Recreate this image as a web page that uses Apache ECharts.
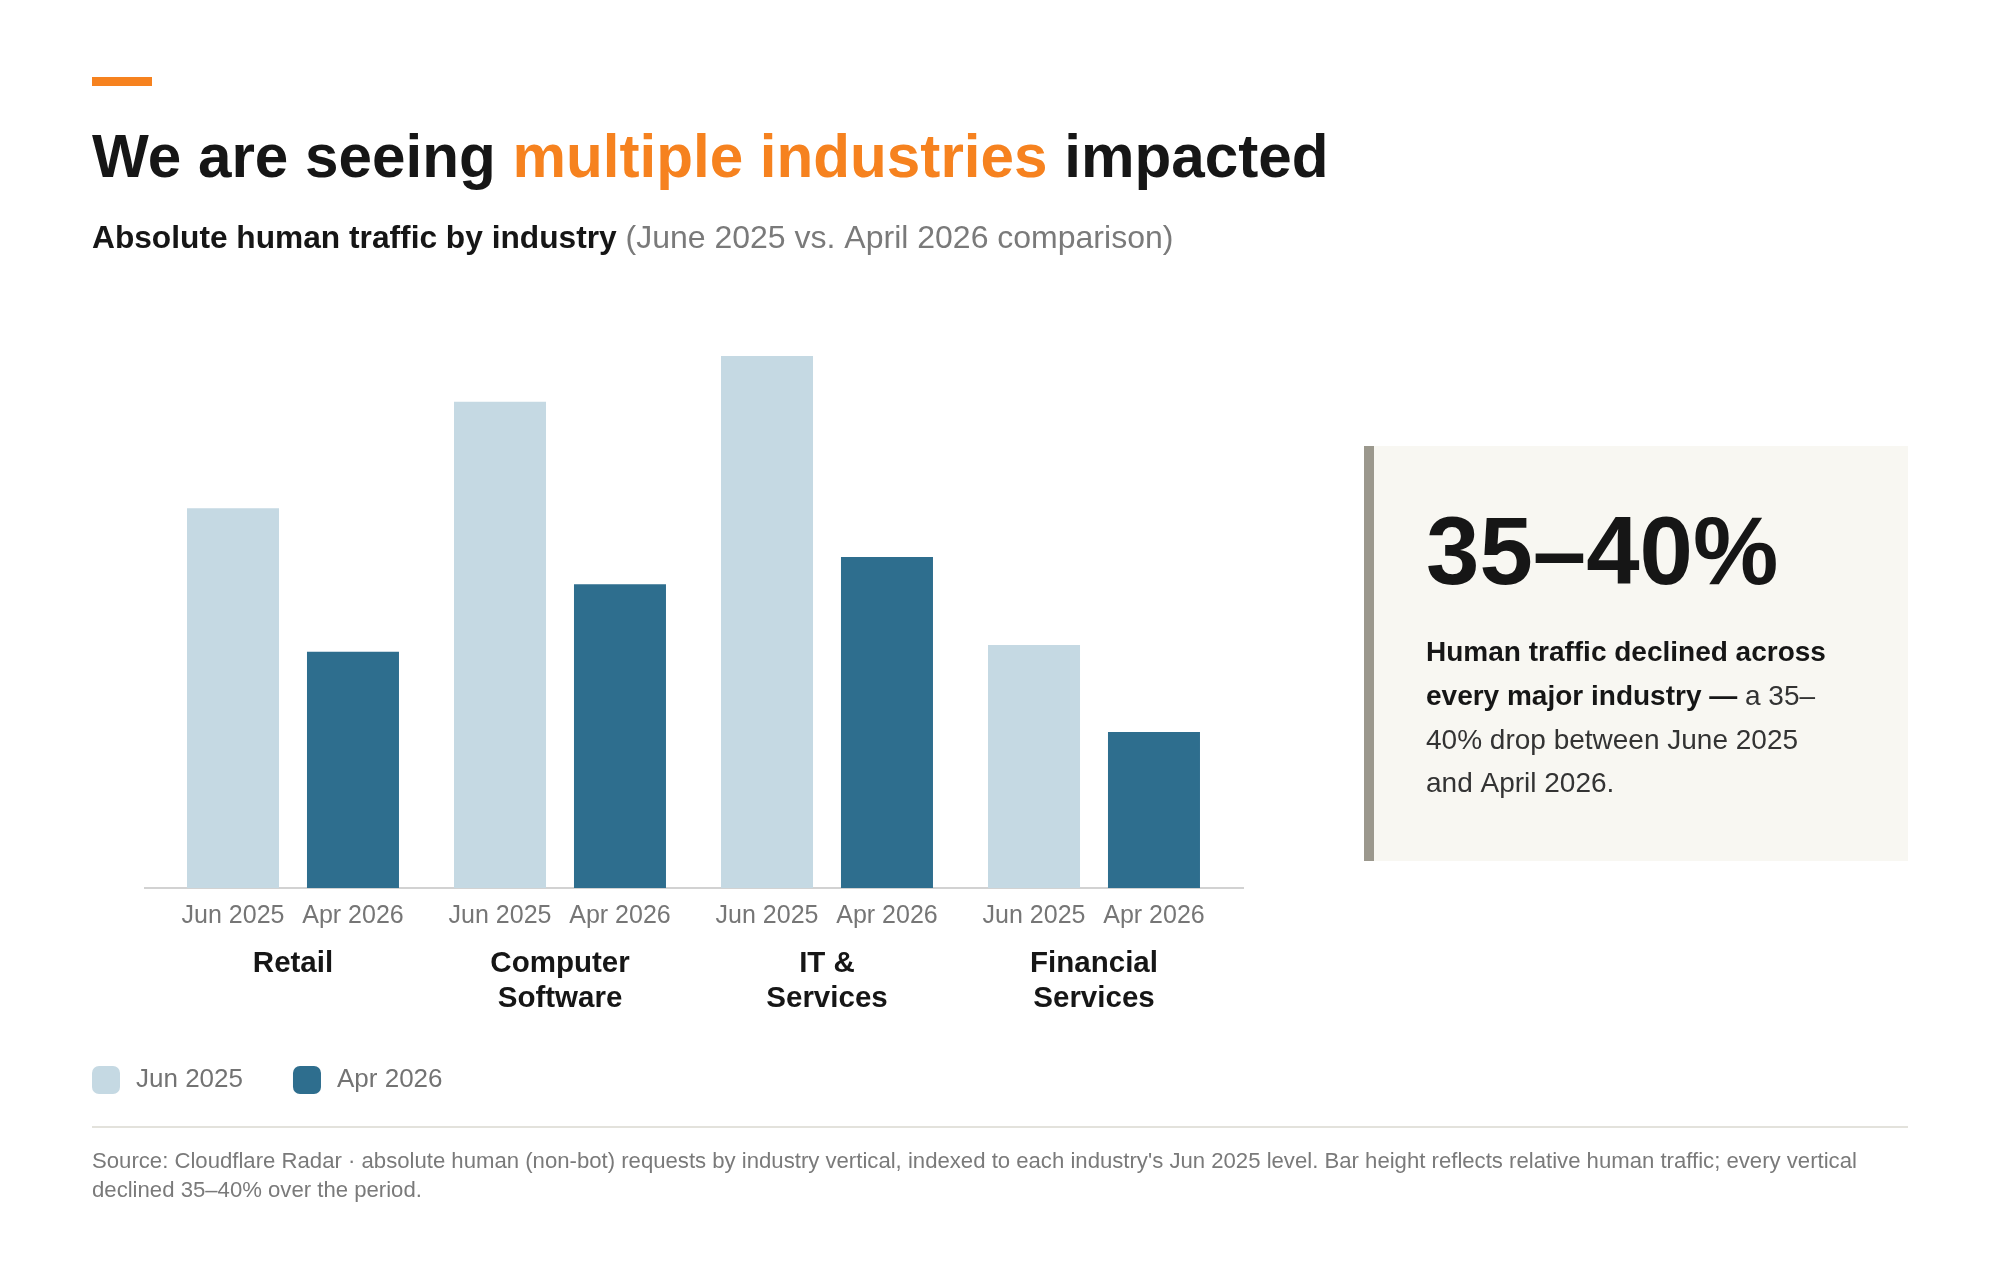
<!DOCTYPE html>
<html>
<head>
<meta charset="utf-8">
<script src="https://cdn.jsdelivr.net/npm/echarts@6/dist/echarts.min.js"></script>
<style>
html,body{margin:0;padding:0;background:#fff;}
#chart{width:2000px;height:1268px;}
</style>
</head>
<body>
<div id="chart"></div>
<script>
var categories = ['Retail', 'Computer\nSoftware', 'IT &\nServices', 'Financial\nServices'];
var seriesNames = ['Jun 2025', 'Apr 2026'];
var jun2025 = [71.4, 91.4, 100, 45.7];
var apr2026 = [44.4, 57.1, 62.2, 29.3];

var FONT = '"Liberation Sans", Arial, Helvetica, sans-serif';
var chart = echarts.init(document.getElementById('chart'), null, {renderer: 'canvas'});

var barLabel = {
  show: true, position: 'bottom', distance: 16, formatter: '{a}',
  fontFamily: FONT, fontSize: 25, color: '#767676', lineHeight: 25
};

chart.setOption({
  backgroundColor: '#ffffff',
  animation: false,
  grid: {left: 159.5, width: 1068, top: 356, bottom: 380, containLabel: false},
  xAxis: {
    type: 'category', data: categories,
    axisLine: {show: false}, axisTick: {show: false},
    axisLabel: {
      margin: 58, fontFamily: FONT, fontSize: 29.5, fontWeight: 'bold',
      color: '#161616', lineHeight: 35, interval: 0
    }
  },
  yAxis: {type: 'value', min: 0, max: 100, show: false, splitLine: {show: false}},
  legend: {
    left: 92, top: 1066, padding: 0, itemWidth: 28, itemHeight: 28, itemGap: 50,
    icon: 'roundRect',
    textStyle: {fontFamily: FONT, fontSize: 26, color: '#737373', padding: [0, 0, 0, 11]},
    data: seriesNames
  },
  series: [
    {name: seriesNames[0], type: 'bar', data: jun2025, barWidth: 92, barGap: '30.4%',
     itemStyle: {color: '#c5d9e3'}, label: barLabel},
    {name: seriesNames[1], type: 'bar', data: apr2026, barWidth: 92,
     itemStyle: {color: '#2e6e8e'}, label: barLabel}
  ],
  graphic: [
    {type: 'rect', shape: {x: 92, y: 77, width: 60, height: 9}, style: {fill: '#f6821f'}},
    {type: 'text', x: 92, y: 160, style: {
      text: '{a|We are seeing }{b|multiple industries}{a| impacted}',
      verticalAlign: 'middle',
      rich: {
        a: {fontFamily: FONT, fontSize: 60.2, fontWeight: 'bold', fill: '#161616'},
        b: {fontFamily: FONT, fontSize: 60.2, fontWeight: 'bold', fill: '#f6821f'}
      }
    }},
    {type: 'text', x: 92, y: 239.5, style: {
      text: '{a|Absolute human traffic by industry}{b| (June 2025 vs. April 2026 comparison)}',
      verticalAlign: 'middle',
      rich: {
        a: {fontFamily: FONT, fontSize: 31.7, fontWeight: 'bold', fill: '#161616'},
        b: {fontFamily: FONT, fontSize: 32, fill: '#7a7a7a'}
      }
    }},
    {type: 'line', shape: {x1: 144, y1: 888, x2: 1244, y2: 888},
     style: {stroke: '#d2d2d2', lineWidth: 2}},
    {type: 'rect', shape: {x: 1364, y: 446, width: 544, height: 415}, style: {fill: '#f8f7f2'}},
    {type: 'rect', shape: {x: 1364, y: 446, width: 10, height: 415}, style: {fill: '#9b988d'}},
    {type: 'text', x: 1426, y: 558, style: {
      text: '35–40%', verticalAlign: 'middle',
      fontFamily: FONT, fontSize: 96, fontWeight: 'bold', fill: '#161616'
    }},
    {type: 'text', x: 1426, y: 653, style: {
      text: 'Human traffic declined across', verticalAlign: 'middle',
      fontFamily: FONT, fontSize: 28, fontWeight: 'bold', fill: '#161616'
    }},
    {type: 'text', x: 1426, y: 697.5, style: {
      text: '{a|every major industry — }{b|a 35–}', verticalAlign: 'middle',
      rich: {
        a: {fontFamily: FONT, fontSize: 28, fontWeight: 'bold', fill: '#161616'},
        b: {fontFamily: FONT, fontSize: 28, fill: '#333333'}
      }
    }},
    {type: 'text', x: 1426, y: 741, style: {
      text: '40% drop between June 2025', verticalAlign: 'middle',
      fontFamily: FONT, fontSize: 28, fill: '#333333'
    }},
    {type: 'text', x: 1426, y: 784.5, style: {
      text: 'and April 2026.', verticalAlign: 'middle',
      fontFamily: FONT, fontSize: 28, fill: '#333333'
    }},
    {type: 'line', shape: {x1: 92, y1: 1127, x2: 1908, y2: 1127},
     style: {stroke: '#e3e2dc', lineWidth: 2}},
    {type: 'text', x: 92, y: 1162, style: {
      text: 'Source: Cloudflare Radar · absolute human (non-bot) requests by industry vertical, indexed to each industry\'s Jun 2025 level. Bar height reflects relative human traffic; every vertical',
      verticalAlign: 'middle', fontFamily: FONT, fontSize: 22.15, fill: '#7a7a7a'
    }},
    {type: 'text', x: 92, y: 1191, style: {
      text: 'declined 35–40% over the period.',
      verticalAlign: 'middle', fontFamily: FONT, fontSize: 22.15, fill: '#7a7a7a'
    }}
  ]
});
</script>
</body>
</html>
